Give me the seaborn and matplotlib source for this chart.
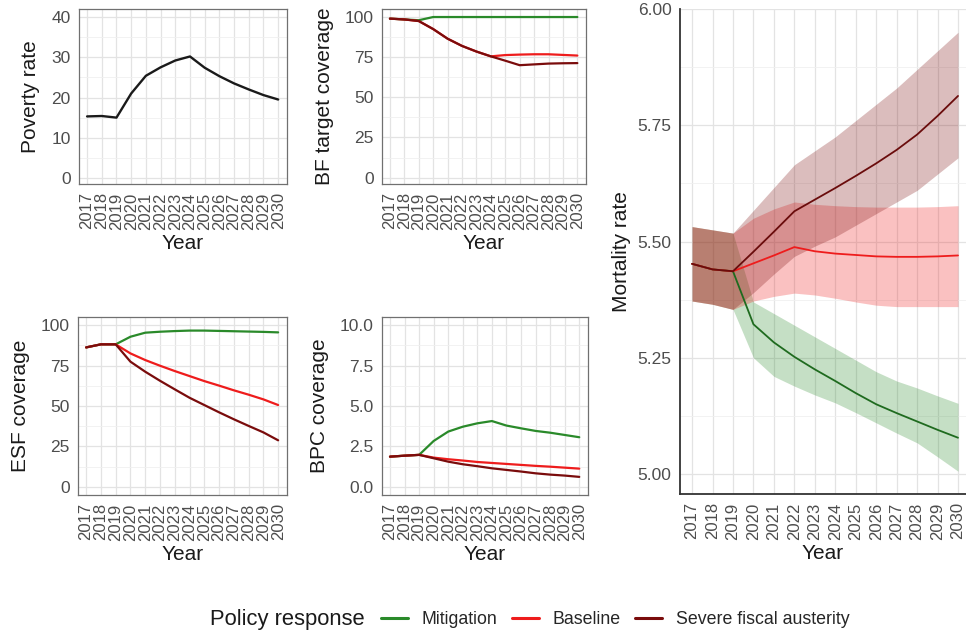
import matplotlib
matplotlib.use("Agg")
import matplotlib.pyplot as plt
from matplotlib.lines import Line2D
from matplotlib.ticker import FixedLocator
import numpy as np
import pandas as pd
import seaborn as sns

sns.set_style("white")
plt.rcParams['font.family'] = ['Liberation Sans', 'DejaVu Sans']

# ---------------- data ----------------
years = list(range(2017, 2031))
policies = ["Mitigation", "Baseline", "Severe fiscal austerity"]
colors = {"Mitigation": "#2a8a2a", "Baseline": "#ee1c1c", "Severe fiscal austerity": "#7a0c0c"}

poverty = [15.3, 15.4, 15.0, 21.0, 25.4, 27.5, 29.2, 30.2, 27.4, 25.3, 23.5, 22.0, 20.6, 19.5]

bf_mit = [99.0, 98.5, 98.0, 100, 100, 100, 100, 100, 100, 100, 100, 100, 100, 100]
bf_base = [99.0, 98.5, 97.5, 92.5, 86.5, 82.0, 78.5, 75.5, 76.3, 76.6, 76.8, 76.8, 76.4, 76.0]
bf_sev = [99.0, 98.5, 97.5, 92.5, 86.5, 82.0, 78.5, 75.5, 72.8, 70.0, 70.5, 71.0, 71.2, 71.3]

esf_mit = [86.2, 88.1, 88.1, 92.8, 95.3, 95.9, 96.3, 96.6, 96.6, 96.4, 96.2, 96.0, 95.8, 95.5]
esf_base = [86.2, 88.1, 88.1, 82.5, 78.4, 74.9, 71.6, 68.5, 65.4, 62.6, 59.7, 57.0, 54.1, 50.6]
esf_sev = [86.2, 88.1, 88.1, 77.4, 71.2, 65.6, 60.3, 55.1, 50.6, 46.1, 41.8, 37.7, 33.7, 28.8]

bpc_mit = [1.87, 1.93, 1.98, 2.84, 3.42, 3.72, 3.93, 4.07, 3.79, 3.62, 3.46, 3.35, 3.21, 3.07]
bpc_base = [1.87, 1.93, 1.98, 1.81, 1.71, 1.63, 1.54, 1.48, 1.42, 1.36, 1.30, 1.25, 1.19, 1.13]
bpc_sev = [1.87, 1.93, 1.98, 1.77, 1.56, 1.40, 1.28, 1.15, 1.05, 0.95, 0.84, 0.76, 0.70, 0.62]

mort_mit = [5.452, 5.440, 5.436, 5.322, 5.283, 5.252, 5.225, 5.200, 5.174, 5.150, 5.131, 5.113, 5.095, 5.078]
mort_mit_lo = [5.372, 5.365, 5.354, 5.250, 5.210, 5.189, 5.170, 5.153, 5.132, 5.110, 5.088, 5.067, 5.037, 5.006]
mort_mit_hi = [5.532, 5.525, 5.518, 5.370, 5.345, 5.320, 5.295, 5.270, 5.245, 5.220, 5.200, 5.185, 5.168, 5.152]

mort_base = [5.452, 5.440, 5.436, 5.453, 5.470, 5.488, 5.479, 5.474, 5.471, 5.468, 5.467, 5.467, 5.468, 5.470]
mort_base_lo = [5.372, 5.365, 5.354, 5.372, 5.382, 5.389, 5.385, 5.378, 5.370, 5.363, 5.360, 5.360, 5.360, 5.360]
mort_base_hi = [5.532, 5.525, 5.518, 5.550, 5.570, 5.585, 5.580, 5.577, 5.575, 5.574, 5.574, 5.574, 5.575, 5.577]

mort_sev = [5.452, 5.440, 5.436, 5.478, 5.521, 5.565, 5.590, 5.615, 5.641, 5.668, 5.697, 5.730, 5.770, 5.813]
mort_sev_lo = [5.372, 5.365, 5.354, 5.390, 5.430, 5.468, 5.490, 5.510, 5.535, 5.560, 5.585, 5.610, 5.645, 5.680]
mort_sev_hi = [5.532, 5.525, 5.518, 5.567, 5.616, 5.665, 5.695, 5.725, 5.760, 5.795, 5.830, 5.870, 5.910, 5.950]


def long_df(series):
    rows = []
    for pol, vals in zip(policies, series):
        for y, v in zip(years, vals):
            rows.append({"Year": y, "value": v, "Policy response": pol})
    return pd.DataFrame(rows)


# ---------------- layout ----------------
W, H = 966, 630
fig = plt.figure(figsize=(W / 100, H / 100), dpi=100)


def add_ax(l, t, r, b):
    return fig.add_axes([l / W, 1 - b / H, (r - l) / W, (b - t) / H])


TICK_C = "#4D4D4D"
GRID_MAJ = "#e3e3e3"
GRID_MIN = "#f0f0f0"


def style_small(ax, ylim, yticks, ylabel, yfmt=None):
    ax.set_xlim(2016.45, 2030.6)
    ax.set_ylim(*ylim)
    ax.set_xticks(years)
    ax.set_xticklabels([str(y) for y in years], rotation=90, fontsize=12, color=TICK_C)
    ax.set_yticks(yticks)
    if yfmt:
        ax.set_yticklabels([yfmt.format(v) for v in yticks], fontsize=12.5, color=TICK_C)
    else:
        ax.set_yticklabels([str(v) for v in yticks], fontsize=12.5, color=TICK_C)
    step = yticks[1] - yticks[0]
    ax.yaxis.set_minor_locator(FixedLocator([v + step / 2 for v in yticks[:-1]]))
    ax.tick_params(axis="both", which="major", length=4, width=0.9, color="#333333", pad=2)
    ax.tick_params(axis="y", which="minor", length=0)
    ax.grid(True, which="major", color=GRID_MAJ, lw=0.9)
    ax.grid(True, which="minor", axis="y", color=GRID_MIN, lw=0.6)
    ax.set_axisbelow(True)
    for s in ax.spines.values():
        s.set_visible(True)
        s.set_color("#707070")
        s.set_linewidth(0.9)
    ax.set_xlabel("Year", fontsize=15, color="#1a1a1a", labelpad=3)
    ax.set_ylabel(ylabel, fontsize=15, color="#1a1a1a", labelpad=8)


# Top-left: poverty rate
ax1 = add_ax(79, 9, 287, 184)
sns.lineplot(x=years, y=poverty, color="#1a1a1a", linewidth=1.7, ax=ax1)
style_small(ax1, (-1.5, 42), [0, 10, 20, 30, 40], "Poverty rate")

# Top-middle: BF target coverage
ax2 = add_ax(382, 9, 586, 184)
sns.lineplot(data=long_df([bf_mit, bf_base, bf_sev]), x="Year", y="value",
             hue="Policy response", hue_order=policies, palette=colors,
             linewidth=1.6, ax=ax2, legend=False)
style_small(ax2, (-4, 105), [0, 25, 50, 75, 100], "BF target coverage")

# Bottom-left: ESF coverage
ax3 = add_ax(78, 317, 287, 495)
sns.lineplot(data=long_df([esf_mit, esf_base, esf_sev]), x="Year", y="value",
             hue="Policy response", hue_order=policies, palette=colors,
             linewidth=1.6, ax=ax3, legend=False)
style_small(ax3, (-5, 105), [0, 25, 50, 75, 100], "ESF coverage")

# Bottom-middle: BPC coverage
ax4 = add_ax(382, 317, 588, 495)
sns.lineplot(data=long_df([bpc_mit, bpc_base, bpc_sev]), x="Year", y="value",
             hue="Policy response", hue_order=policies, palette=colors,
             linewidth=1.6, ax=ax4, legend=False)
style_small(ax4, (-0.5, 10.5), [0.0, 2.5, 5.0, 7.5, 10.0], "BPC coverage", "{:.1f}")

# Right: mortality rate with ribbons
ax5 = add_ax(680, 9, 966, 494)
ribbons = {"Mitigation": (mort_mit_lo, mort_mit_hi),
           "Baseline": (mort_base_lo, mort_base_hi),
           "Severe fiscal austerity": (mort_sev_lo, mort_sev_hi)}
for pol in policies:
    lo, hi = ribbons[pol]
    ax5.fill_between(years, lo, hi, color=colors[pol], alpha=0.27, linewidth=0)
line_colors = {"Mitigation": "#1f6b1f", "Baseline": "#ee1c1c", "Severe fiscal austerity": "#6a0c0c"}
sns.lineplot(data=long_df([mort_mit, mort_base, mort_sev]), x="Year", y="value",
             hue="Policy response", hue_order=policies, palette=line_colors,
             linewidth=1.3, ax=ax5, legend=False)
ax5.set_xlim(2016.41, 2030.39)
ax5.set_ylim(4.957, 6.0)
ax5.set_xticks(years)
ax5.set_xticklabels([str(y) for y in years], rotation=90, fontsize=12, color=TICK_C)
yt = [5.00, 5.25, 5.50, 5.75, 6.00]
ax5.set_yticks(yt)
ax5.set_yticklabels(["{:.2f}".format(v) for v in yt], fontsize=12.5, color=TICK_C)
ax5.yaxis.set_minor_locator(FixedLocator([5.125, 5.375, 5.625, 5.875]))
ax5.tick_params(axis="both", which="major", length=4, width=1.0, color="#333333", pad=2)
ax5.tick_params(axis="y", which="minor", length=0)
ax5.grid(True, which="major", color=GRID_MAJ, lw=0.9)
ax5.grid(True, which="minor", axis="y", color=GRID_MIN, lw=0.6)
ax5.set_axisbelow(True)
for side in ["top", "right"]:
    ax5.spines[side].set_visible(False)
for side in ["left", "bottom"]:
    ax5.spines[side].set_visible(True)
    ax5.spines[side].set_color("#333333")
    ax5.spines[side].set_linewidth(1.3)
ax5.set_xlabel("Year", fontsize=15, color="#1a1a1a", labelpad=3)
ax5.set_ylabel("Mortality rate", fontsize=15, color="#1a1a1a", labelpad=5)

# ---------------- legend ----------------
fig.text(210 / W, 1 - 620 / H, "Policy response", fontsize=15.8, color="#1a1a1a",
         va="center", ha="left")
handles = [Line2D([0], [0], color=colors[p], lw=2.2) for p in policies]
fig.legend(handles, policies, loc="center left", bbox_to_anchor=(365 / W, 1 - 620 / H),
           ncol=3, frameon=False, fontsize=12.8, handlelength=1.5, handletextpad=0.8,
           columnspacing=0.8, labelcolor="#262626")

fig.savefig("out.png", dpi=100)
